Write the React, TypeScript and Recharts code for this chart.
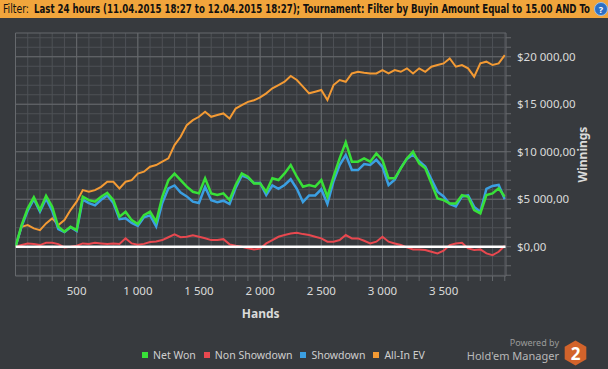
import React from "react";
import { LineChart, Line, XAxis, YAxis, CartesianGrid, ReferenceLine } from "recharts";

const hands = [
  0, 50, 100, 150, 200, 250, 300, 350, 400, 450, 500, 550, 600, 650, 700, 750, 800, 850, 900, 950,
  1000, 1050, 1100, 1150, 1200, 1250, 1300, 1350, 1400, 1450, 1500, 1550, 1600, 1650, 1700, 1750, 1800, 1850, 1900, 1950,
  2000, 2050, 2100, 2150, 2200, 2250, 2300, 2350, 2400, 2450, 2500, 2550, 2600, 2650, 2700, 2750, 2800, 2850, 2900, 2950,
  3000, 3050, 3100, 3150, 3200, 3250, 3300, 3350, 3400, 3450, 3500, 3550, 3600, 3650, 3700, 3750, 3800, 3850, 3900, 3950,
  4000,
];

const netWon = [
  0, 2280, 4040, 5200, 3860, 5370, 4210, 2100, 1580, 2100, 1750, 5260, 4910, 4740, 5260, 5680, 4910, 3160, 3680, 2800,
  2400, 3330, 3680, 2630, 5260, 7000, 7700, 7020, 6320, 5790, 5620, 7200, 5620, 5440, 5620, 4915, 6495, 7720, 7370, 6670,
  6670, 5790, 7200, 7020, 7720, 8600, 7370, 6320, 6495, 6320, 7020, 5265, 7370, 9300, 11000, 8950, 8950, 9300, 8950, 9820,
  9120, 7200, 7200, 8250, 9300, 10000, 8770, 8250, 6670, 5090, 4915, 4560, 4560, 5440, 5265, 3860, 3510, 5440, 5620, 6145,
  5265,
];

const nonShowdown = [
  0, 175, 350, 280, 175, 420, 420, 280, -70, 0, 100, 350, 280, 420, 350, 280, 350, 280, 880, 350,
  200, 300, 500, 550, 700, 1000, 1300, 1000, 1050, 1200, 1050, 900, 700, 700, 800, 250, 100, 0, -150, -280,
  -200, 350, 700, 1050, 1230, 1400, 1470, 1330, 1230, 1050, 880, 530, 530, 700, 1230, 880, 880, 630, 350, 530,
  1050, 530, 350, 180, -70, -280, -280, -350, -530, -700, -420, 180, 350, 420, -180, -350, -280, -700, -880, -530,
  100,
];

const showdown = [
  0, 2150, 3800, 5000, 3700, 5050, 3800, 1850, 1550, 2050, 1650, 4950, 4600, 4350, 4950, 5400, 4600, 2900, 3000, 2500,
  2200, 3100, 3300, 2150, 4600, 6150, 6450, 5700, 5300, 4750, 4600, 6300, 4900, 4700, 4850, 4500, 6200, 7500, 7250, 6700,
  6700, 5450, 6450, 6100, 6500, 7100, 6100, 4700, 5400, 5400, 6050, 4500, 6900, 8600, 9650, 8070, 8070, 8700, 8600, 9150,
  8400, 6500, 7050, 8300, 9250, 9700, 9000, 8450, 7100, 5800, 5300, 4500, 4250, 5300, 5400, 4200, 3650, 6100, 6400, 6500,
  5000,
];

const allInEV = [
  0, 2100, 2280, 1930, 1750, 2460, 2980, 2280, 2800, 3860, 4740, 5960, 5790, 5960, 6310, 6840, 6840, 6140, 6840, 7010,
  7700, 7900, 8420, 8600, 8950, 9300, 10700, 11580, 12800, 13330, 13680, 14200, 13680, 13860, 14030, 13500, 14550, 14900, 15250, 15420,
  15720, 16150, 16680, 17020, 17370, 17970, 17550, 16850, 16150, 16320, 16500, 15440, 17020, 17550, 17370, 18240, 18420, 18320, 18240, 18240,
  18600, 18240, 18600, 18420, 18780, 18240, 18780, 18420, 18950, 19130, 19300, 19830, 18950, 19130, 18780, 17900, 19300, 19480, 19130, 19300,
  20180,
];

const seriesKeys = ["allInEV", "nonShowdown", "showdown", "netWon"];
const legendNames = ["Net Won", "Non Showdown", "Showdown", "All-In EV"];
const legendColors = ["#38e038", "#e8484f", "#3b9fe2", "#f39a34"];
const lineColors: Record<string, string> = {
  netWon: "#38e038",
  nonShowdown: "#e8484f",
  showdown: "#3b9fe2",
  allInEV: "#f39a34",
};

const xTicks = [
  100, 200, 300, 400, 500, 600, 700, 800, 900, 1000, 1100, 1200, 1300, 1400, 1500, 1600, 1700, 1800, 1900, 2000,
  2100, 2200, 2300, 2400, 2500, 2600, 2700, 2800, 2900, 3000, 3100, 3200, 3300, 3400, 3500, 3600, 3700, 3800, 3900, 4000,
];
const xLabeled = [500, 1000, 1500, 2000, 2500, 3000, 3500];
const xMajorGrid = [0, 500, 1000, 1500, 2000, 2500, 3000, 3500];
const yTicks = [
  -3000, -2000, -1000, 0, 1000, 2000, 3000, 4000, 5000, 6000, 7000, 8000, 9000, 10000, 11000, 12000, 13000,
  14000, 15000, 16000, 17000, 18000, 19000, 20000, 21000, 22000,
];
const yLabeled = [0, 5000, 10000, 15000, 20000];
const yMajorGrid = [5000, 10000, 15000, 20000, 22500];
const xDomain = [0, 4010];
const yDomain = [-3080, 22500];

const filterLabel = "Filter:";
const filterText =
  "Last 24 hours (11.04.2015 18:27 to 12.04.2015 18:27); Tournament: Filter by Buyin Amount Equal to 15.00 AND To";

const data = hands.map((h, i) => ({
  h,
  netWon: netWon[i],
  nonShowdown: nonShowdown[i],
  showdown: showdown[i],
  allInEV: allInEV[i],
}));

const BG = "#373a3e";
const MINOR = "#4e5156";
const MAJOR = "#66696d";
const TEXT = "#dadada";
const FONT = "'Noto Sans', 'Open Sans', sans-serif";

const thousands = (v: number) => String(Math.abs(v)).replace(/\B(?=(\d{3})+(?!\d))/g, " ");
const fmtX = (v: number) => (xLabeled.includes(v) ? thousands(v) : "");
const fmtY = (v: number) => (yLabeled.includes(v) ? "$" + thousands(v) + ",00" : "");

const hexPoints = (cx: number, cy: number, r: number) =>
  [0, 1, 2, 3, 4, 5]
    .map((k) => {
      const a = (Math.PI / 180) * (60 * k - 90);
      return `${cx + r * Math.cos(a)},${cy + r * Math.sin(a)}`;
    })
    .join(" ");

export default function App() {
  return (
    <div
      style={{
        position: "absolute",
        left: 0,
        top: 0,
        width: 608,
        height: 369,
        background: BG,
        overflow: "hidden",
        fontFamily: FONT,
      }}
    >
      <div style={{ position: "absolute", left: 0, top: 0 }}>
        <LineChart
          width={608}
          height={369}
          data={data}
          margin={{ top: 33, right: 7, bottom: 49, left: 15.5 }}
        >
          <CartesianGrid stroke={MINOR} strokeWidth={1} horizontalValues={yTicks} verticalValues={xTicks} />
          <CartesianGrid stroke={MAJOR} strokeWidth={1} horizontalValues={yMajorGrid} verticalValues={xMajorGrid} />
          <XAxis
            dataKey="h"
            type="number"
            domain={xDomain}
            ticks={xTicks}
            interval={0}
            allowDataOverflow
            tickFormatter={fmtX}
            tickSize={5}
            tickMargin={6}
            height={44}
            axisLine={{ stroke: MAJOR }}
            tickLine={{ stroke: MAJOR }}
            tick={{ fill: TEXT, fontSize: 11.5, fontFamily: FONT }}
            label={{
              content: (p: any) => {
                const vb = p.viewBox || {};
                return (
                  <text
                    x={vb.x + vb.width / 2}
                    y={vb.y + vb.height - 2}
                    textAnchor="middle"
                    fill={TEXT}
                    fontSize={12}
                    fontWeight="bold"
                    fontFamily={FONT}
                  >
                    Hands
                  </text>
                );
              },
            }}
          />
          <YAxis
            orientation="right"
            type="number"
            domain={yDomain}
            ticks={yTicks}
            interval={0}
            allowDataOverflow
            tickFormatter={fmtY}
            tickSize={5}
            tickMargin={6}
            width={95}
            axisLine={{ stroke: MAJOR }}
            tickLine={{ stroke: MAJOR }}
            tick={{ fill: TEXT, fontSize: 11.5, fontFamily: FONT, textAnchor: "start" }}
            label={{
              content: (p: any) => {
                const vb = p.viewBox || {};
                const lx = vb.x + 81;
                const ly = vb.y + vb.height / 2;
                return (
                  <text
                    x={lx}
                    y={ly}
                    transform={`rotate(-90 ${lx} ${ly})`}
                    textAnchor="middle"
                    fill={TEXT}
                    fontSize={12}
                    fontWeight="bold"
                    fontFamily={FONT}
                  >
                    Winnings
                  </text>
                );
              },
            }}
          />
          {seriesKeys.map((k) => (
            <Line
              key={k}
              dataKey={k}
              type="linear"
              stroke={lineColors[k]}
              strokeWidth={k === "netWon" || k === "showdown" ? 2.5 : 2}
              dot={false}
              activeDot={false}
              isAnimationActive={false}
            />
          ))}
          <ReferenceLine y={0} stroke="#ffffff" strokeWidth={2.5} ifOverflow="hidden" />
        </LineChart>
      </div>

      <svg
        width={608}
        height={18}
        style={{ position: "absolute", left: 0, top: 0 }}
      >
        <rect x={0} y={0} width={608} height={18} fill="#f1a53c" />
        <text
          x={3}
          y={13}
          fontSize={11.5}
          fontFamily="'Liberation Sans Narrow', 'DejaVu Sans Condensed', sans-serif"
          fill="#111"
          textLength={26}
          lengthAdjust="spacingAndGlyphs"
        >
          {filterLabel}
        </text>
        <text
          x={34}
          y={13}
          fontSize={11.5}
          fontWeight="bold"
          fontFamily="'Liberation Sans Narrow', 'DejaVu Sans Condensed', sans-serif"
          fill="#111"
          textLength={556}
          lengthAdjust="spacingAndGlyphs"
        >
          {filterText}
        </text>
        <circle cx={601} cy={9} r={6.5} fill="#2d6fc4" stroke="#9cc4ee" strokeWidth={1} />
        <text x={601} y={12.5} textAnchor="middle" fontSize={9} fontWeight="bold" fill="#fff" fontFamily={FONT}>
          ?
        </text>
      </svg>

      <div
        style={{
          position: "absolute",
          left: 142,
          top: 348,
          display: "flex",
          alignItems: "center",
          fontSize: 10.5,
          color: "#cfcfcf",
          fontFamily: FONT,
          whiteSpace: "nowrap",
        }}
      >
        {legendNames.map((n, i) => (
          <div key={n} style={{ display: "flex", alignItems: "center", marginRight: 8 }}>
            <span
              style={{
                display: "inline-block",
                width: 6,
                height: 6,
                background: legendColors[i],
                marginRight: 5,
              }}
            />
            <span>{n}</span>
          </div>
        ))}
      </div>

      <svg width={608} height={369} style={{ position: "absolute", left: 0, top: 0, pointerEvents: "none" }}>
        <text x={559} y={346} textAnchor="end" fontSize={9} fill="#9a9a9a" fontFamily={FONT}>
          Powered by
        </text>
        <text x={559} y={359.5} textAnchor="end" fontSize={11} fill="#b8b8b8" fontFamily={FONT}>
          Hold'em Manager
        </text>
        <polygon points={hexPoints(575.5, 353, 12.5)} fill="#d2632b" />
        <text x={575.5} y={359.5} textAnchor="middle" fontSize={17} fontWeight="bold" fill="#ffffff" fontFamily={FONT}>
          2
        </text>
      </svg>
    </div>
  );
}
